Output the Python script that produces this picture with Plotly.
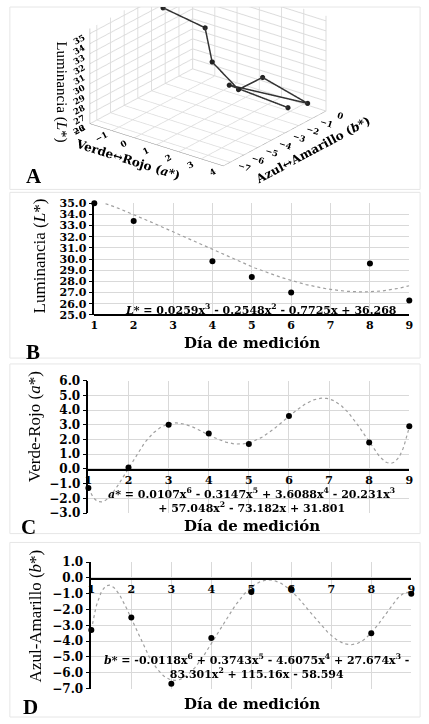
import numpy as np
import plotly.graph_objects as go

# ---- data ----
days = [1, 2, 3, 4, 5, 6, 8, 9]
L_vals = [35.0, 33.4, 35.1, 29.8, 28.4, 27.0, 29.6, 26.3]
a_vals = [-1.3, 0.1, 3.0, 2.4, 1.7, 3.6, 1.8, 2.9]
b_vals = [-3.3, -2.5, -6.7, -3.8, -0.9, -0.7, -3.5, -1.0]
x_ticks = [1, 2, 3, 4, 5, 6, 7, 8, 9]
L_eq = "<i>L</i>* = 0.0259x<sup>3</sup> - 0.2548x<sup>2</sup> - 0.7725x + 36.268"
a_eq = ("<i>a</i>* = 0.0107x<sup>6</sup> - 0.3147x<sup>5</sup> + 3.6088x<sup>4</sup> - 20.231x<sup>3</sup>"
        "<br>+ 57.048x<sup>2</sup> - 73.182x + 31.801")
b_eq = ("<i>b</i>* = -0.0118x<sup>6</sup> + 0.3743x<sup>5</sup> - 4.6075x<sup>4</sup> + 27.674x<sup>3</sup> -"
        "<br>83.301x<sup>2</sup> + 115.16x - 58.594")

W, H = 429, 724
def py(p):
    return 1 - p / H
def px(p):
    return p / W

WIDE = "DejaVu Serif"
TIMES = "Liberation Serif"
GRID = "#d9d9d9"
TREND = "#a0a0a0"

fig = go.Figure()

# ---- Panel A (3D) ----
fig.add_trace(go.Scatter3d(
    x=a_vals, y=b_vals, z=L_vals, mode="lines+markers",
    line=dict(color="#333333", width=3),
    marker=dict(color="#222222", size=3),
    showlegend=False, scene="scene"))

ax3 = dict(showbackground=False, gridcolor="#dcdcdc", linecolor="#888",
           tickfont=dict(family=WIDE, size=10, color="black", weight="bold"),
           zeroline=False, showspikes=False)
S = 1.85
fig.update_layout(scene=dict(
    domain=dict(x=[0.0, 0.97], y=[py(186), 1.0]),
    xaxis=dict(ax3, range=[-2, 4], dtick=1,
               title=dict(text="<b>Verde↔Rojo (<i>a</i>*)</b>", font=dict(family=WIDE, size=12, color="black"))),
    yaxis=dict(ax3, range=[-7.5, 0], dtick=1,
               title=dict(text="<b>Azul↔Amarillo (<i>b</i>*)</b>", font=dict(family=WIDE, size=12, color="black"))),
    zaxis=dict(ax3, range=[26, 35.5], dtick=1,
               title=dict(text="Luminancia (<i>L</i>*)", font=dict(family=TIMES, size=15, color="black"))),
    aspectmode="manual", aspectratio=dict(x=1.0 * S, y=1.0 * S, z=0.62 * S),
    camera=dict(eye=dict(x=1.0, y=-1.3, z=0.40), center=dict(x=0, y=0, z=-0.34),
                projection=dict(type="orthographic")),
))

xs = np.linspace(1, 9, 300)

def panel(idx, yvals, deg, xdom, ydom, yrange, xpos_pix, yfs):
    xa = "x" if idx == 1 else f"x{idx}"
    ya = "y" if idx == 1 else f"y{idx}"
    coef = np.polyfit(days, yvals, deg)
    fig.add_trace(go.Scatter(x=xs, y=np.polyval(coef, xs), mode="lines",
                             line=dict(color=TREND, width=1.2, dash="dot"),
                             xaxis=xa, yaxis=ya, showlegend=False, hoverinfo="skip"))
    fig.add_trace(go.Scatter(x=days, y=yvals, mode="markers",
                             marker=dict(color="black", size=6),
                             xaxis=xa, yaxis=ya, showlegend=False, cliponaxis=False))
    xkey = "xaxis" if idx == 1 else f"xaxis{idx}"
    ykey = "yaxis" if idx == 1 else f"yaxis{idx}"
    xd = dict(domain=xdom, range=[1, 9], tickvals=x_ticks, showgrid=True, gridcolor=GRID,
              zeroline=False, showline=True, linecolor="black", linewidth=1.5,
              ticks="", tickfont=dict(family=WIDE, size=11, color="black", weight="bold"),
              anchor="free", position=py(xpos_pix))
    yd = dict(domain=ydom, range=yrange, dtick=1, tickformat=".1f", showgrid=True,
              gridcolor=GRID, zeroline=False, showline=True, linecolor="black", linewidth=1.5,
              ticks="outside", ticklen=4, tickcolor="black",
              tickfont=dict(family=WIDE, size=yfs, color="black", weight="bold"), anchor=xa)
    fig.update_layout({xkey: xd, ykey: yd})

# B
panel(1, L_vals, 3, [px(92), px(413)], [py(314), py(200)], [25, 35], 314, 11)
# C
panel(2, a_vals, 6, [px(86), px(413)], [py(516), py(381)], [-3, 6], 472, 12)
# D
panel(3, b_vals, 6, [px(89), px(415)], [py(695), py(566)], [-7, 1], 583, 12)

ann = []
def text(x, y, s, size=12, xanchor="center", family=WIDE, bold=True, angle=0):
    ann.append(dict(x=px(x), y=py(y), xref="paper", yref="paper",
                    text=(f"<b>{s}</b>" if bold else s), textangle=angle,
                    showarrow=False, xanchor=xanchor, yanchor="middle",
                    font=dict(family=family, size=size, color="black")))

text(20, 172, "A", 21, "left", TIMES)
text(20, 352, "B", 21, "left", TIMES)
text(15, 530, "C", 21, "left", TIMES)
text(17, 714, "D", 21, "left", TIMES)
text(253, 343, "Día de medición", 15)
text(253, 529, "Día de medición", 15)
text(253, 711, "Día de medición", 15)
text(262, 308, L_eq, 11)
text(252, 503, a_eq, 11)
text(257, 672, b_eq, 11)
text(36, 254, "Luminancia (<i>L</i>*)", 17, "center", TIMES, False, -90)
text(31, 428, "Verde-Rojo (<i>a</i>*)", 17, "center", TIMES, False, -90)
text(33, 621, "Azul-Amarillo (<i>b</i>*)", 17, "center", TIMES, False, -90)

shapes = []
for (y0, y1) in [(0, 186), (189, 358), (364, 537), (546, 724)]:
    shapes.append(dict(type="rect", xref="paper", yref="paper",
                       x0=px(6), x1=px(424), y0=py(y1), y1=py(y0),
                       line=dict(color="#e6e6e6", width=1), fillcolor="rgba(0,0,0,0)", layer="below"))

fig.update_layout(width=W, height=H, margin=dict(l=0, r=0, t=0, b=0),
                  paper_bgcolor="white", plot_bgcolor="white",
                  annotations=ann, shapes=shapes)

fig.write_html("out.html")
